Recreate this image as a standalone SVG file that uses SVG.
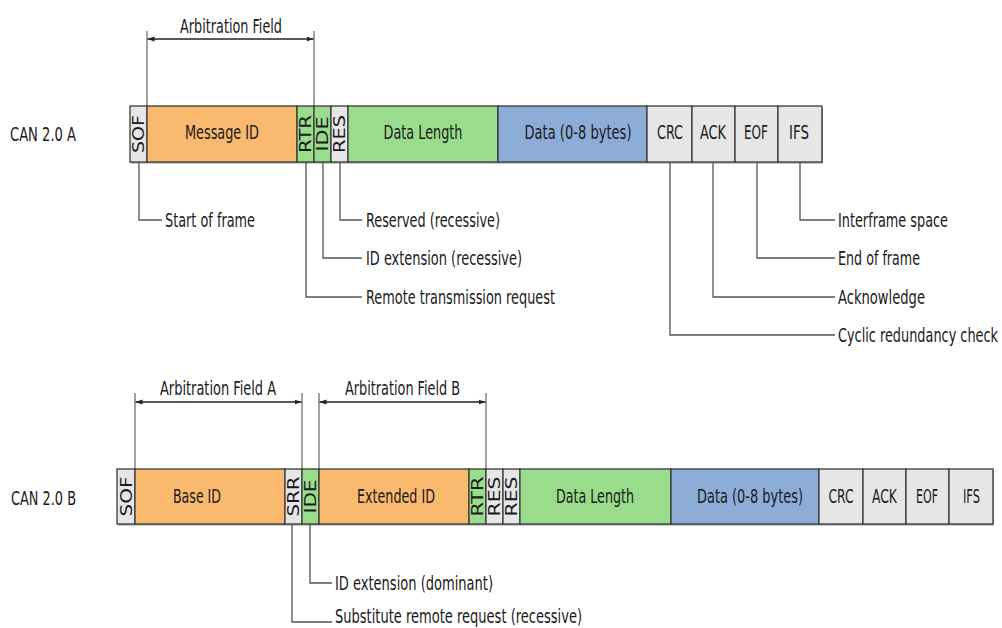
<svg xmlns="http://www.w3.org/2000/svg" width="1002" height="628" viewBox="0 0 1002 628">
<style>
text{font-family:"DejaVu Sans Condensed","DejaVu Sans",sans-serif;font-size:19px;fill:#1a1a1a}
.c{text-anchor:middle}
.v{font-size:16px;text-anchor:middle}
.g{fill:#e6e6e6;stroke:#3a3a3a;stroke-width:1.3}
.o{fill:#f9b96f;stroke:#3a3a3a;stroke-width:1.3}
.n{fill:#99dc8b;stroke:#3a3a3a;stroke-width:1.3}
.b{fill:#8eacd8;stroke:#3a3a3a;stroke-width:1.3}
.sh{fill:#9a9a9a}
.ld{fill:none;stroke:#555;stroke-width:1.3}
.dm{fill:none;stroke:#222;stroke-width:1.3}
.ex{fill:none;stroke:#444;stroke-width:1}
</style>
<defs>
<marker id="ah" viewBox="0 0 10 10" refX="10" refY="5" markerWidth="7" markerHeight="7" orient="auto-start-reverse" markerUnits="userSpaceOnUse">
<path d="M0,1.5 L10,5 L0,8.5 Z" fill="#222"/>
</marker>
</defs>
<rect width="1002" height="628" fill="#fff"/>

<!-- Row A -->
<g id="rowA-label"><text x="10" y="141" textLength="66" lengthAdjust="spacingAndGlyphs">CAN 2.0 A</text></g>
<rect class="sh" x="131" y="107.5" width="692" height="56"/>
<g id="A-SOF"><rect class="g" x="130" y="106" width="17" height="56"/><text class="v" transform="translate(144.3,134) rotate(-90)" textLength="38" lengthAdjust="spacingAndGlyphs">SOF</text></g>
<g id="A-MsgID"><rect class="o" x="147" y="106" width="150" height="56"/><text class="c" x="222" y="139" textLength="74" lengthAdjust="spacingAndGlyphs">Message ID</text></g>
<g id="A-RTR"><rect class="n" x="297" y="106" width="17" height="56"/><text class="v" transform="translate(311.3,134) rotate(-90)" textLength="38" lengthAdjust="spacingAndGlyphs">RTR</text></g>
<g id="A-IDE"><rect class="n" x="314" y="106" width="17" height="56"/><text class="v" transform="translate(328.3,134) rotate(-90)" textLength="35" lengthAdjust="spacingAndGlyphs">IDE</text></g>
<g id="A-RES"><rect class="g" x="331" y="106" width="17" height="56"/><text class="v" transform="translate(345.3,134) rotate(-90)" textLength="38" lengthAdjust="spacingAndGlyphs">RES</text></g>
<g id="A-DLC"><rect class="n" x="348" y="106" width="150" height="56"/><text class="c" x="423" y="139" textLength="79" lengthAdjust="spacingAndGlyphs">Data Length</text></g>
<g id="A-Data"><rect class="b" x="498" y="106" width="149" height="56"/><text class="c" x="578" y="139" textLength="107" lengthAdjust="spacingAndGlyphs">Data (0-8 bytes)</text></g>
<g id="A-CRC"><rect class="g" x="647" y="106" width="45" height="56"/><text class="c" x="670" y="139" textLength="26" lengthAdjust="spacingAndGlyphs">CRC</text></g>
<g id="A-ACK"><rect class="g" x="692" y="106" width="43" height="56"/><text class="c" x="713" y="139" textLength="26" lengthAdjust="spacingAndGlyphs">ACK</text></g>
<g id="A-EOF"><rect class="g" x="735" y="106" width="43" height="56"/><text class="c" x="756" y="139" textLength="24" lengthAdjust="spacingAndGlyphs">EOF</text></g>
<g id="A-IFS"><rect class="g" x="778" y="106" width="44" height="56"/><text class="c" x="799" y="139" textLength="20" lengthAdjust="spacingAndGlyphs">IFS</text></g>

<!-- Row B -->
<g id="rowB-label"><text x="11" y="505" textLength="65" lengthAdjust="spacingAndGlyphs">CAN 2.0 B</text></g>
<rect class="sh" x="118" y="470.5" width="876" height="55"/>
<g id="B-SOF"><rect class="g" x="117" y="469" width="18" height="55"/><text class="v" transform="translate(131.8,496.5) rotate(-90)" textLength="40" lengthAdjust="spacingAndGlyphs">SOF</text></g>
<g id="B-BaseID"><rect class="o" x="135" y="469" width="150" height="55"/><text class="c" x="197" y="503" textLength="48" lengthAdjust="spacingAndGlyphs">Base ID</text></g>
<g id="B-SRR"><rect class="g" x="285" y="469" width="17" height="55"/><text class="v" transform="translate(299.3,496.5) rotate(-90)" textLength="40" lengthAdjust="spacingAndGlyphs">SRR</text></g>
<g id="B-IDE"><rect class="n" x="302" y="469" width="17" height="55"/><text class="v" transform="translate(316.3,496.5) rotate(-90)" textLength="34" lengthAdjust="spacingAndGlyphs">IDE</text></g>
<g id="B-ExtID"><rect class="o" x="319" y="469" width="150" height="55"/><text class="c" x="396" y="503" textLength="78" lengthAdjust="spacingAndGlyphs">Extended ID</text></g>
<g id="B-RTR"><rect class="n" x="469" y="469" width="17" height="55"/><text class="v" transform="translate(483.3,496.5) rotate(-90)" textLength="40" lengthAdjust="spacingAndGlyphs">RTR</text></g>
<g id="B-RES1"><rect class="g" x="486" y="469" width="17" height="55"/><text class="v" transform="translate(500.3,496.5) rotate(-90)" textLength="40" lengthAdjust="spacingAndGlyphs">RES</text></g>
<g id="B-RES2"><rect class="g" x="503" y="469" width="17" height="55"/><text class="v" transform="translate(517.3,496.5) rotate(-90)" textLength="40" lengthAdjust="spacingAndGlyphs">RES</text></g>
<g id="B-DLC"><rect class="n" x="520" y="469" width="151" height="55"/><text class="c" x="595" y="503" textLength="78" lengthAdjust="spacingAndGlyphs">Data Length</text></g>
<g id="B-Data"><rect class="b" x="671" y="469" width="148" height="55"/><text class="c" x="750" y="503" textLength="106" lengthAdjust="spacingAndGlyphs">Data (0-8 bytes)</text></g>
<g id="B-CRC"><rect class="g" x="819" y="469" width="44" height="55"/><text class="c" x="841" y="503" textLength="25" lengthAdjust="spacingAndGlyphs">CRC</text></g>
<g id="B-ACK"><rect class="g" x="863" y="469" width="43" height="55"/><text class="c" x="884.5" y="503" textLength="25" lengthAdjust="spacingAndGlyphs">ACK</text></g>
<g id="B-EOF"><rect class="g" x="906" y="469" width="43" height="55"/><text class="c" x="927" y="503" textLength="22" lengthAdjust="spacingAndGlyphs">EOF</text></g>
<g id="B-IFS"><rect class="g" x="949" y="469" width="44" height="55"/><text class="c" x="971.5" y="503" textLength="17" lengthAdjust="spacingAndGlyphs">IFS</text></g>

<!-- Connectors -->
<g id="connectors">
<path class="ex" d="M147,31 V106 M314,31 V106"/>
<path class="dm" d="M147.5,39 H313.5" marker-start="url(#ah)" marker-end="url(#ah)"/>
<path class="ex" d="M135,393 V469 M302,393 V469 M319,393 V469 M486,393 V469"/>
<path class="dm" d="M135.5,402 H301.5" marker-start="url(#ah)" marker-end="url(#ah)"/>
<path class="dm" d="M319.5,402 H485.5" marker-start="url(#ah)" marker-end="url(#ah)"/>
<path class="ld" d="M139,162 V220 H162"/>
<path class="ld" d="M340,162 V220 H362"/>
<path class="ld" d="M323,162 V258 H362"/>
<path class="ld" d="M306,162 V297 H362"/>
<path class="ld" d="M800,162 V220 H835"/>
<path class="ld" d="M757,162 V258 H835"/>
<path class="ld" d="M713,162 V297 H835"/>
<path class="ld" d="M670,162 V335 H835"/>
<path class="ld" d="M310,524 V583 H332"/>
<path class="ld" d="M292,524 V622 H332"/>
</g>

<!-- Labels -->
<g id="dim-labels">
<text class="c" x="231" y="33" textLength="102" lengthAdjust="spacingAndGlyphs">Arbitration Field</text>
<text class="c" x="218" y="395" textLength="116" lengthAdjust="spacingAndGlyphs">Arbitration Field A</text>
<text class="c" x="402.5" y="395" textLength="115" lengthAdjust="spacingAndGlyphs">Arbitration Field B</text>
</g>
<g id="leader-labels">
<text x="165" y="227" textLength="90" lengthAdjust="spacingAndGlyphs">Start of frame</text>
<text x="366" y="227" textLength="134" lengthAdjust="spacingAndGlyphs">Reserved (recessive)</text>
<text x="366" y="265" textLength="156" lengthAdjust="spacingAndGlyphs">ID extension (recessive)</text>
<text x="366" y="304" textLength="189" lengthAdjust="spacingAndGlyphs">Remote transmission request</text>
<text x="838" y="227" textLength="110" lengthAdjust="spacingAndGlyphs">Interframe space</text>
<text x="838" y="265" textLength="82" lengthAdjust="spacingAndGlyphs">End of frame</text>
<text x="838" y="304" textLength="87" lengthAdjust="spacingAndGlyphs">Acknowledge</text>
<text x="838" y="342" textLength="160" lengthAdjust="spacingAndGlyphs">Cyclic redundancy check</text>
<text x="335" y="590" textLength="158" lengthAdjust="spacingAndGlyphs">ID extension (dominant)</text>
<text x="335" y="623" textLength="247" lengthAdjust="spacingAndGlyphs">Substitute remote request (recessive)</text>
</g>
</svg>
